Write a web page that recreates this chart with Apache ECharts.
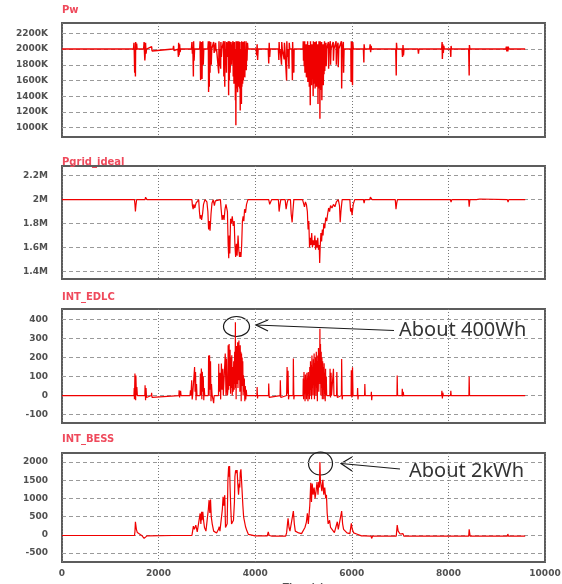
<!DOCTYPE html>
<html>
<head>
<meta charset="utf-8">
<script src="https://cdn.jsdelivr.net/npm/echarts@6/dist/echarts.min.js"></script>
<style>
html,body{margin:0;padding:0;background:#fff;}
#main{width:562px;height:584px;}
</style>
</head>
<body>
<div id="main"></div>
<script>
// time axis (s)
const timeTicks = [0, 2000, 4000, 6000, 8000, 10000];

// panel titles
const panelNames = ['Pw', 'Pgrid_ideal', 'INT_EDLC', 'INT_BESS'];

// y tick labels per panel
const pwTicks = [1000, 1200, 1400, 1600, 1800, 2000, 2200];
const pgridTicks = [1.4, 1.6, 1.8, 2, 2.2];
const edlcTicks = [-100, 0, 100, 200, 300, 400];
const bessTicks = [-500, 0, 500, 1000, 1500, 2000];

// Pw, in K  [time, value]
const pwData = [
[0,2000],[1480,2000],
[1490,2080],[1495,2000],[1505,1700],[1510,2000],[1520,1650],[1525,2090],[1535,1990],[1545,2070],[1555,2000],
[1690,2000],[1700,2090],[1705,1990],[1715,1856],[1720,1900],[1730,2080],[1740,1940],[1750,2000],
[1855,2030],[1865,1975],[1875,2000],
[2300,2000],[2310,2040],[2320,1980],[2330,2000],
[2400,2000],[2410,1900],[2415,2080],[2425,1920],[2435,2060],[2445,1960],[2455,2000],
[2680,2000],[2690,2090],[2700,1940],[2710,2000],[2720,1650],[2725,2100],[2735,1850],[2745,2000],
[2850,2000],[2860,2100],[2870,1604],[2875,2000],[2885,1700],[2890,2090],[2900,1620],[2905,2000],[2915,2100],[2925,1800],[2935,2000],
[3020,2000],[3030,2100],[3035,1455],[3040,2000],[3050,1520],[3055,2100],[3065,1700],[3070,2000],[3080,2090],[3090,1800],[3100,2000],
[3140,2090],[3150,1950],[3160,2000],[3180,2080],[3190,1970],[3200,2000],
[3235,2000],[3245,1690],[3250,2100],[3260,1780],[3270,2000],[3285,1750],[3290,2090],[3300,1900],[3310,2000],
[3340,2000],[3345,2100],[3350,1650],[3360,2000],[3370,1520],[3375,2100],[3385,1800],[3395,2000],[3405,1700],[3410,2090],[3420,1900],[3430,2000],
[3445,2100],[3450,1413],[3455,2000],[3465,1600],[3470,2100],[3480,1700],[3490,1900],[3500,2090],[3510,1800],[3520,2000],
[3540,2100],[3545,1650],[3555,2000],[3560,1560],[3570,2090],[3575,1750],[3585,2000],[3590,1350],[3595,2000],[3600,1030],[3605,2100],[3610,1500],[3620,2040],[3625,1580],[3630,2100],[3635,1450],[3645,2000],[3650,1520],[3660,2100],[3665,1600],[3675,2000],[3680,1500],[3685,2090],[3690,1220],[3695,2000],[3700,1540],[3710,1900],[3715,1300],[3720,2100],[3725,1520],[3735,2000],[3740,1560],[3750,2090],[3755,1600],[3765,2000],[3770,1700],[3775,2100],[3785,1640],[3795,2000],[3800,1780],[3810,2100],[3815,1730],[3825,2000],[3830,1850],[3840,2080],[3850,2000],
[4020,2000],[4030,1920],[4040,2060],[4050,1860],[4060,2000],
[4270,2000],[4280,1815],[4290,2080],[4300,1900],[4310,2000],
[4480,2000],[4490,1860],[4495,2090],[4505,1950],[4515,2000],
[4540,2000],[4545,1800],[4550,2090],[4560,2000],[4600,1870],[4605,2080],[4615,2000],[4645,2000],[4650,1600],[4655,2100],[4665,1900],[4680,2000],[4700,1750],[4705,2080],[4715,2000],[4760,2000],[4770,1602],[4775,2090],[4785,1880],[4800,1700],[4805,2000],[4830,2000],
[4990,2000],[4995,2100],[5000,1850],[5010,2000],[5015,1780],[5025,2100],[5030,1700],[5040,2000],[5045,1800],[5055,2060],[5060,1640],[5070,2000],[5075,1720],[5085,2100],[5090,1580],[5100,2000],[5105,1680],[5115,2050],[5120,1520],[5130,2000],[5140,1285],[5145,2100],[5150,1600],[5160,2000],[5165,1540],[5175,2060],[5180,1660],[5190,2000],[5200,1400],[5205,2100],[5210,1560],[5220,2000],[5225,1620],[5235,2090],[5240,1500],[5250,2000],[5255,1640],[5265,2100],[5270,1520],[5280,2000],[5285,1600],[5295,2060],[5300,1300],[5305,2000],[5315,1500],[5320,2100],[5330,1580],[5335,2000],[5340,1115],[5345,2100],[5355,1480],[5360,2000],[5370,1560],[5375,2090],[5380,1350],[5390,2000],[5395,1620],[5405,2060],[5410,1540],[5420,2000],[5425,1680],[5435,2100],[5440,1720],[5450,2000],[5455,1820],[5465,2080],[5470,1780],[5480,2000],
[5515,2090],[5520,1750],[5530,2000],[5555,2100],[5560,1800],[5570,2000],[5615,2090],[5620,1850],[5630,2000],[5675,2100],[5680,1800],[5690,2000],[5715,2080],[5720,1770],[5730,2000],[5785,2100],[5790,1500],[5800,2000],[5825,2090],[5830,1700],[5840,2000],
[5980,2000],[5985,1580],[5990,2100],[6000,1800],[6015,1540],[6020,2090],[6030,2000],
[6240,2000],[6250,1830],[6255,2060],[6265,2000],
[6370,2000],[6380,2060],[6390,1960],[6400,2040],[6410,2000],
[6910,2000],[6920,1665],[6925,2080],[6935,2000],
[7040,2000],[7050,1900],[7060,2050],[7070,1920],[7080,2000],
[7370,2000],[7380,1940],[7390,2000],
[7860,2000],[7870,2090],[7875,1875],[7885,2060],[7895,1950],[7905,2040],[7915,2000],
[8040,2000],[8050,1900],[8055,2040],[8065,2000],
[8420,2000],[8430,1665],[8435,2050],[8445,2000],
[9190,2000],[9200,2030],[9210,1970],[9220,2030],[9230,1970],[9240,2030],[9250,2000],
[9590,2000]
];

// Pgrid_ideal, in M
const pgridData = [
[0,2],[1500,2],[1510,1.96],[1520,1.9],[1530,1.95],[1545,2],[1720,2],[1730,2.02],[1745,2.01],[1760,2],
[2410,2],[2420,1.99],[2435,2],
[2690,2],[2700,1.95],[2715,1.92],[2730,1.96],[2750,1.93],[2775,1.97],[2830,2],[2845,1.9],[2860,1.84],[2875,1.87],[2890,1.83],[2910,1.88],[2930,1.96],[2960,2],[3000,1.98],[3020,1.9],[3035,1.75],[3050,1.82],[3065,1.74],[3085,1.88],[3105,1.97],[3130,2],[3155,1.95],[3175,1.99],[3200,2],
[3280,2],[3295,1.92],[3315,1.83],[3335,1.87],[3355,1.83],[3375,1.92],[3395,1.96],[3425,1.9],[3440,1.62],[3452,1.51],[3462,1.7],[3475,1.55],[3490,1.84],[3505,1.8],[3525,1.86],[3545,1.78],[3565,1.82],[3580,1.62],[3595,1.52],[3610,1.63],[3625,1.53],[3645,1.7],[3660,1.58],[3675,1.52],[3690,1.56],[3705,1.52],[3720,1.62],[3735,1.82],[3750,1.86],[3765,1.82],[3780,1.92],[3800,1.89],[3820,1.96],[3850,2],
[4280,2],[4300,1.96],[4320,1.98],[4340,2],
[4480,2],[4495,1.9],[4510,1.95],[4530,2],[4620,2],[4640,1.92],[4660,1.97],[4680,2],[4730,2],[4745,1.88],[4765,1.81],[4780,1.9],[4800,2],
[4980,2],[5000,1.97],[5020,1.94],[5040,1.98],[5060,1.96],[5080,1.9],[5095,1.75],[5110,1.82],[5125,1.6],[5140,1.68],[5155,1.62],[5170,1.72],[5185,1.6],[5200,1.66],[5220,1.62],[5235,1.7],[5250,1.58],[5265,1.66],[5280,1.6],[5295,1.68],[5310,1.58],[5325,1.62],[5335,1.47],[5345,1.6],[5360,1.72],[5375,1.65],[5390,1.75],[5405,1.7],[5420,1.8],[5440,1.76],[5460,1.85],[5480,1.82],[5500,1.88],[5520,1.93],[5540,1.9],[5560,1.95],[5590,1.93],[5620,1.96],[5650,1.94],[5680,1.98],[5720,2],[5745,1.95],[5760,1.81],[5775,1.9],[5800,2],
[5960,2],[5975,1.9],[5990,1.93],[6005,1.87],[6030,1.96],[6060,2],
[6240,2],[6255,1.97],[6270,2],[6370,2],[6385,2.02],[6400,2.01],[6420,2],
[6900,2],[6915,1.92],[6930,1.97],[6945,2],[7050,2],[7065,1.99],[7080,2],
[7870,2],[7885,2.01],[7900,2],[8040,2],[8055,1.98],[8070,2],[8420,2],[8430,1.94],[8445,2],[8580,2],[8600,2.005],[8650,2.005],[8670,2],[9220,2],[9235,1.98],[9250,2],[9590,2]
];

// INT_EDLC, Wh
const edlcData = [
[0,0],[1490,0],[1495,40],[1500,-20],[1510,115],[1515,0],[1520,60],[1525,-25],[1530,105],[1540,0],[1550,45],[1560,0],
[1715,0],[1720,54],[1730,-25],[1740,40],[1750,-10],[1760,0],
[1850,0],[1855,15],[1865,-10],[1875,0],
[2420,0],[2425,28],[2435,-10],[2455,25],[2465,0],
[2650,0],[2660,28],[2670,0],[2685,80],[2695,-20],[2705,0],
[2740,0],[2745,150],[2755,20],[2765,124],[2775,-25],[2785,60],[2795,0],
[2860,0],[2865,115],[2875,0],[2885,142],[2895,-20],[2905,125],[2915,20],[2925,100],[2935,-25],[2945,40],[2955,0],
[3030,0],[3035,210],[3045,0],[3055,212],[3065,30],[3075,180],[3085,-30],[3095,60],[3110,0],
[3135,0],[3140,-40],[3150,0],
[3240,0],[3245,167],[3255,20],[3270,120],[3285,-20],[3300,168],[3315,30],[3330,140],[3340,0],
[3375,0],[3380,220],[3395,0],[3405,194],[3415,50],[3425,0],
[3435,30],[3440,264],[3450,30],[3460,271],[3470,50],[3480,240],[3490,10],[3500,200],[3510,40],[3515,212],[3525,0],[3535,150],[3545,20],[3555,180],[3565,30],[3575,230],[3585,60],[3590,385],[3595,40],[3600,200],[3605,-20],[3612,260],[3618,60],[3625,230],[3630,100],[3637,280],[3643,40],[3650,210],[3657,120],[3663,289],[3670,80],[3677,250],[3683,20],[3690,264],[3697,100],[3703,230],[3710,-30],[3717,220],[3723,90],[3730,200],[3737,50],[3743,180],[3750,0],[3757,107],[3765,20],[3775,90],[3785,-30],[3795,50],[3805,-20],[3815,30],[3825,0],
[4035,0],[4040,45],[4048,-15],[4055,0],
[4275,0],[4280,63],[4290,-10],[4300,0],
[4515,0],[4520,80],[4530,-10],[4540,0],
[4650,0],[4660,150],[4670,10],[4680,130],[4690,-20],[4700,0],
[4785,0],[4790,194],[4800,-20],[4810,0],
[4990,0],[4995,90],[5002,-20],[5010,124],[5017,10],[5025,80],[5032,-30],[5040,110],[5047,20],[5055,72],[5062,-20],[5070,120],[5077,0],[5085,95],[5092,-30],[5100,124],[5107,10],[5115,100],[5122,-20],[5130,150],[5137,0],[5145,180],[5152,30],[5160,160],[5167,-20],[5175,210],[5182,40],[5190,150],[5197,0],[5205,190],[5212,60],[5220,220],[5227,-20],[5235,170],[5242,50],[5250,200],[5257,0],[5265,230],[5272,40],[5280,180],[5287,-30],[5295,210],[5302,60],[5310,250],[5317,20],[5325,190],[5332,80],[5340,351],[5345,60],[5352,270],[5360,0],[5367,230],[5375,40],[5382,200],[5390,-20],[5397,180],[5405,30],[5412,150],[5420,-20],[5427,170],[5435,10],[5442,120],[5450,-30],[5457,140],[5465,0],[5472,100],[5480,0],
[5545,0],[5550,140],[5560,-10],[5570,120],[5580,0],[5615,0],[5620,140],[5630,0],
[5685,0],[5690,124],[5700,-10],[5710,0],
[5785,0],[5790,192],[5800,-20],[5810,0],
[5985,0],[5990,133],[6000,-10],[6015,148],[6025,0],
[6115,0],[6120,40],[6128,-20],[6135,0],
[6265,0],[6270,61],[6278,0],
[6400,0],[6405,20],[6412,-25],[6420,0],
[6935,0],[6940,105],[6948,0],
[7040,0],[7045,35],[7055,-5],[7065,20],[7075,0],
[7860,0],[7865,25],[7875,-15],[7885,15],[7895,0],
[8045,0],[8050,25],[8058,0],
[8425,0],[8430,100],[8438,0],
[9220,0],[9225,10],[9232,-10],[9240,10],[9248,0],
[9590,0]
];

// INT_BESS, Wh
const bessData = [
[0,-20],[1500,-20],[1510,80],[1520,358],[1530,250],[1540,150],[1560,60],[1600,20],[1650,-20],[1690,-40],[1700,-100],[1720,-60],[1760,-30],[1800,-20],
[2290,-20],[2300,10],[2320,-20],
[2690,-20],[2720,238],[2740,150],[2770,266],[2800,80],[2840,60],[2860,586],[2875,300],[2890,632],[2900,400],[2915,633],[2935,350],[2950,200],[2980,100],[3015,80],[3030,700],[3045,952],[3060,600],[3075,972],[3090,500],[3110,300],[3140,100],[3170,80],[3200,50],[3240,150],[3255,220],[3270,100],[3300,60],[3320,700],[3335,1044],[3350,800],[3370,1090],[3385,200],[3400,150],[3420,300],[3435,1500],[3450,1886],[3460,1600],[3470,1890],[3480,1300],[3495,700],[3510,300],[3530,250],[3550,400],[3570,900],[3580,1600],[3595,1776],[3610,1700],[3625,1780],[3640,1400],[3655,1100],[3670,1410],[3680,1300],[3690,1700],[3705,1800],[3720,1776],[3735,1790],[3745,800],[3760,494],[3780,520],[3800,220],[3830,100],[3860,10],[3900,-20],
[4000,-30],[4020,-60],[4040,-30],[4250,-30],[4270,80],[4290,-20],[4350,-40],[4370,-60],[4400,-40],
[4630,-40],[4650,50],[4680,450],[4700,200],[4720,100],[4760,80],[4790,650],[4810,300],[4830,100],[4900,50],[4960,30],[5000,80],[5030,200],[5060,350],[5080,590],[5100,300],[5130,800],[5150,1430],[5165,900],[5180,1410],[5200,1100],[5220,1300],[5240,1000],[5260,1200],[5280,1450],[5300,1100],[5315,1456],[5330,1300],[5340,2005],[5350,1500],[5365,1520],[5380,1200],[5400,1510],[5420,1100],[5440,1300],[5460,1000],[5475,1100],[5490,600],[5510,300],[5540,400],[5560,200],[5600,150],[5640,60],[5680,50],[5700,357],[5720,150],[5760,100],[5790,650],[5810,300],[5830,150],[5850,100],[5900,50],[5960,30],[5990,311],[6010,150],[6040,50],[6100,20],[6200,-30],[6260,-30],[6270,20],[6285,-40],[6400,-40],[6410,-100],[6430,-40],
[6920,-40],[6940,265],[6960,100],[7000,20],[7040,-20],[7060,30],[7080,-40],
[7860,-40],[7870,-60],[7880,-40],[8420,-40],[8430,150],[8450,-40],[9220,-40],[9230,20],[9245,-40],[9590,-40]
];

const gridTop = [23, 166, 309, 453];
const gridHeight = [114, 113, 114, 109];
const yRange = [[882, 2331], [1.336, 2.281], [-144, 454], [-750, 2250]];
const yTicks = [pwTicks, pgridTicks, edlcTicks, bessTicks];
const yUnit = ['K', 'M', '', ''];
const titleTop = [5, 157, 292, 434];
const allData = [pwData, pgridData, edlcData, bessData];

const labelFont = {color: '#505050', fontFamily: 'DejaVu Sans', fontWeight: 'bold', fontSize: 9};

let grids = [], xAxes = [], yAxes = [], series = [], titles = [];
for (let i = 0; i < 4; i++) {
    grids.push({
        left: 62, width: 483, top: gridTop[i], height: gridHeight[i],
        show: true, borderColor: '#5c5c5c', borderWidth: 2,
        outerBoundsMode: 'none'
    });
    xAxes.push({
        gridIndex: i, type: 'value', min: timeTicks[0], max: timeTicks[timeTicks.length - 1], interval: 2000,
        axisLine: {show: false}, axisTick: {show: false},
        axisLabel: Object.assign({show: i == 3, margin: 7, formatter: v => String(v)}, labelFont),
        splitLine: {show: true, lineStyle: {color: '#777', width: 1, type: [1, 2]}},
        name: i == 3 ? 'Time (s)' : '', nameLocation: 'middle', nameGap: 21,
        nameTextStyle: labelFont
    });
    let unit = yUnit[i];
    yAxes.push({
        gridIndex: i, type: 'value', min: yRange[i][0], max: yRange[i][1],
        axisLine: {show: false},
        axisTick: {show: false, customValues: yTicks[i]},
        axisLabel: Object.assign({customValues: yTicks[i], margin: 14, formatter: v => v + unit}, labelFont),
        splitLine: {show: true, lineStyle: {color: '#9a9a9a', width: 1, type: [4, 3]}}
    });
    series.push({
        type: 'line', xAxisIndex: i, yAxisIndex: i,
        data: allData[i], symbol: 'none', sampling: null,
        lineStyle: {color: '#f00000', width: i == 0 ? 1.4 : 1.2},
        clip: true, silent: true
    });
    titles.push({
        text: panelNames[i], left: 62, top: titleTop[i], padding: 0,
        textStyle: {color: '#ef4a5c', fontFamily: 'DejaVu Sans', fontWeight: 'bold', fontSize: 10}
    });
}

// annotation marks
const noteStyle = {fill: 'none', stroke: '#1a1a1a', lineWidth: 1.2};
const graphics = [
    {type: 'ellipse', shape: {cx: 236.5, cy: 326.5, rx: 13, ry: 10}, style: noteStyle},
    {type: 'line', shape: {x1: 256, y1: 325, x2: 394, y2: 330.5}, style: noteStyle},
    {type: 'polyline', shape: {points: [[268, 320], [256, 325], [268, 331]]}, style: noteStyle},
    {type: 'text', x: 399, y: 330, style: {text: 'About 400Wh', font: '20px "Noto Sans"', fill: '#333', verticalAlign: 'middle'}},
    {type: 'ellipse', shape: {cx: 320.5, cy: 463.5, rx: 12, ry: 11.5}, style: noteStyle},
    {type: 'line', shape: {x1: 341, y1: 463.5, x2: 400, y2: 469}, style: noteStyle},
    {type: 'polyline', shape: {points: [[352, 457], [341, 463.5], [352, 471]]}, style: noteStyle},
    {type: 'text', x: 409, y: 471, style: {text: 'About 2kWh', font: '20px "Noto Sans"', fill: '#333', verticalAlign: 'middle'}}
];

const chart = echarts.init(document.getElementById('main'));
chart.setOption({
    animation: false,
    backgroundColor: '#fff',
    title: titles,
    grid: grids,
    xAxis: xAxes,
    yAxis: yAxes,
    series: series,
    graphic: graphics
});
</script>
</body>
</html>
